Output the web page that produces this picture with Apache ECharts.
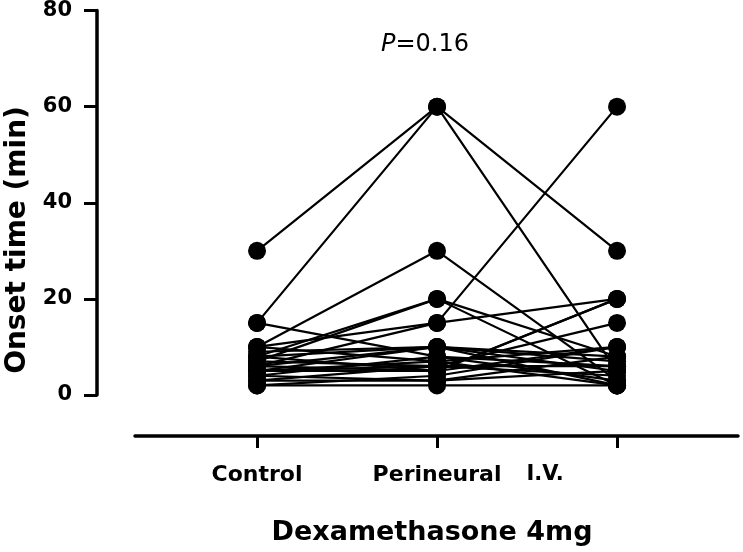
<!DOCTYPE html>
<html>
<head>
<meta charset="utf-8">
<script src="https://cdn.jsdelivr.net/npm/echarts@6/dist/echarts.min.js"></script>
<style>
  html, body { margin: 0; padding: 0; background: #fff; }
  #chart { width: 743px; height: 552px; }
</style>
</head>
<body>
<div id="chart"></div>
<script>
// groups on the x axis
const categories = ['Control', 'Perineural', 'I.V.'];

// one value per patient, same order in every group (onset time, min)
const control    = [30, 15, 10, 6, 8, 15, 10, 9, 8, 7, 6, 5, 5, 4, 3, 2, 7, 6, 5, 4, 8, 3, 10, 2, 5];
const perineural = [60, 60, 30, 15, 20, 8, 15, 10, 5, 6, 10, 7, 5, 8, 3, 2, 20, 5, 6, 3, 10, 6, 7, 4, 10];
const iv         = [30, 5, 3, 60, 2, 6, 20, 2, 20, 15, 8, 10, 20, 3, 5, 2, 8, 10, 6, 8, 5, 4, 2, 10, 7];

const yMin = 0;
const yMax = 80;
const yStep = 20;

const xTitle = 'Dexamethasone 4mg';
const yTitle = 'Onset time (min)';

const font = 'DejaVu Sans';

const chart = echarts.init(document.getElementById('chart'));

const series = control.map((c, i) => ({
  type: 'line',
  data: [[0, c], [1, perineural[i]], [2, iv[i]]],
  symbol: 'circle',
  symbolSize: 18,
  lineStyle: { color: '#000', width: 2.2 },
  itemStyle: { color: '#000' },
  silent: true,
  animation: false
}));

chart.setOption({
  animation: false,
  grid: { left: 135, right: 5, top: 10, bottom: 157 },
  xAxis: {
    type: 'value',
    min: -0.678,
    max: 2.672,
    offset: 41,
    splitLine: { show: false },
    axisLine: { show: true, onZero: false, lineStyle: { color: '#000', width: 3.5 } },
    axisTick: { show: true, customValues: [0, 1, 2], length: 12, lineStyle: { color: '#000', width: 3 } },
    axisLabel: {
      customValues: [0, 1, 2],
      margin: 28,
      formatter: (v) => {
        const name = categories[Math.round(v)];
        // the I.V. label sits left of its tick in the original
        return v === 2 ? '{iv|' + name + '}' : '{c|' + name + '}';
      },
      rich: {
        c: { fontFamily: font, fontWeight: 'bold', fontSize: 22, color: '#000' },
        iv: { fontFamily: font, fontWeight: 'bold', fontSize: 21, color: '#000', padding: [0, 144, 0, 0] }
      }
    }
  },
  yAxis: {
    type: 'value',
    min: yMin,
    max: yMax,
    interval: yStep,
    offset: 38,
    splitLine: { show: false },
    axisLine: { show: true, onZero: false, lineStyle: { color: '#000', width: 3.5 } },
    axisTick: { show: true, length: 13, lineStyle: { color: '#000', width: 3 } },
    axisLabel: { margin: 25, fontFamily: font, fontWeight: 'bold', fontSize: 21, color: '#000' }
  },
  graphic: [
    {
      type: 'text',
      x: 18,
      y: 240,
      rotation: Math.PI / 2,
      style: {
        text: yTitle,
        fontFamily: font,
        fontWeight: 'bold',
        fontSize: 28,
        fill: '#000',
        textAlign: 'center',
        textVerticalAlign: 'middle'
      }
    },
    {
      type: 'text',
      x: 432,
      y: 533,
      style: {
        text: xTitle,
        fontFamily: font,
        fontWeight: 'bold',
        fontSize: 27,
        fill: '#000',
        textAlign: 'center',
        textVerticalAlign: 'middle'
      }
    },
    {
      type: 'text',
      x: 425,
      y: 45,
      style: {
        text: '{i|P}{n|=0.16}',
        rich: {
          i: { fontFamily: font, fontStyle: 'italic', fontSize: 24, fill: '#000' },
          n: { fontFamily: font, fontSize: 24, fill: '#000' }
        },
        textAlign: 'center',
        textVerticalAlign: 'middle'
      }
    }
  ],
  series: series
});
</script>
</body>
</html>
